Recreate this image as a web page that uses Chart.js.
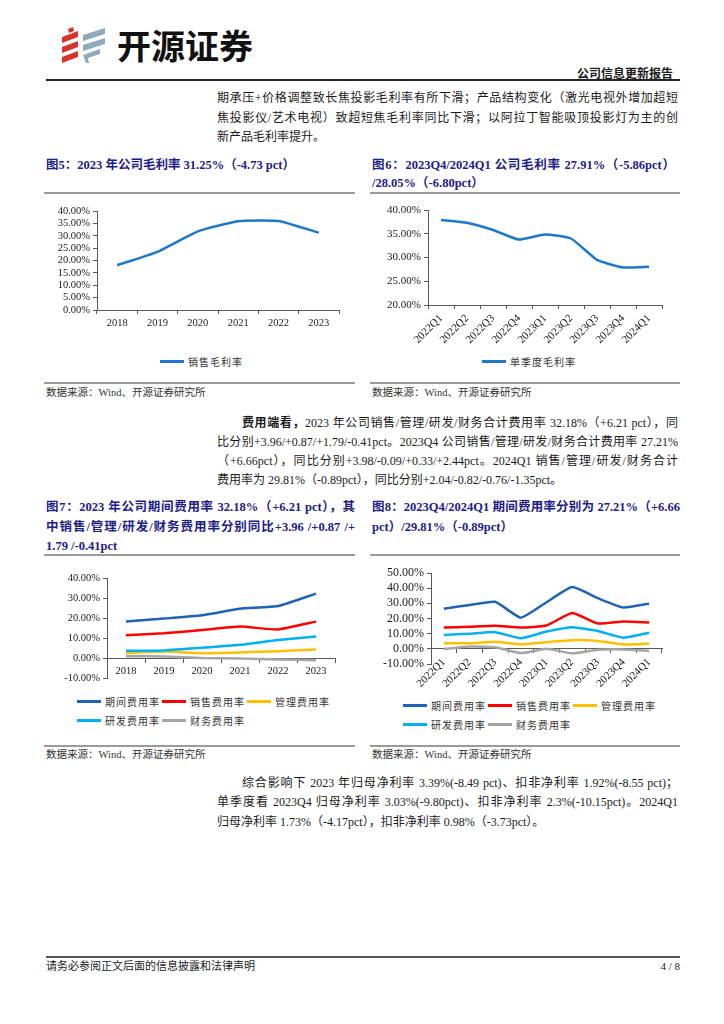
<!DOCTYPE html>
<html lang="zh-CN">
<head>
<meta charset="utf-8">
<title>开源证券 - 公司信息更新报告</title>
<script src="https://cdn.jsdelivr.net/npm/chart.js@4.4.1/dist/chart.umd.min.js"></script>
<style>
    body { margin: 0; background: #fff; }
    #page {
        position: relative;
        width: 724px;
        height: 1024px;
        overflow: hidden;
        font-family: 'Liberation Serif', 'Noto Sans CJK SC', serif;
        color: #1a1a1a;
    }
    .abs { position: absolute; white-space: nowrap; }
    .body-line { font-size: 12px; line-height: 16px; }
    .just { text-align: justify; text-align-last: justify; }
    .fig-title { font-size: 12.5px; line-height: 18px; font-weight: 700; color: #1d2088; }
    .rule { position: absolute; height: 2px; background: #9a9a9a; }
    .source { font-size: 10.5px; line-height: 14px; color: #333; }
    .chart-box { position: absolute; }
    .lg { position: absolute; display: flex; flex-wrap: wrap; }
    .lg-item { display: flex; align-items: center; height: 19px; }
    .lg-line { display: inline-block; width: 24px; height: 3px; margin-right: 4px; }
    .lg-text { font-family: 'Noto Sans CJK SC', sans-serif; font-size: 10px; letter-spacing: 1px; color: #333; }
</style>
</head>
<body>
<div id="page">

    <!-- 页眉 -->
    <svg class="abs" style="left:60px; top:27px;" width="48" height="38" viewBox="0 0 48 38">
        <polygon points="8,2 13,0 14,4 9,6" fill="#d9342b"/>
        <polygon points="2,10 18,4 18,10 2,16" fill="#d9342b"/>
        <polygon points="2,20 18,14 18,20 2,26" fill="#d9342b"/>
        <polygon points="2,30 18,24 18,30 2,36" fill="#d9342b"/>
        <polygon points="23,8 45,1 45,7 23,14" fill="#8eaabd"/>
        <polygon points="23,18 45,11 45,17 23,24" fill="#8eaabd"/>
        <polygon points="23,28 40,22 40,27 28,31 29,36 26,36" fill="#8eaabd"/>
    </svg>
    <div class="abs" style="left:117px; top:27px; font-family:'Noto Sans CJK SC'; font-weight:700; font-size:34px; line-height:36px; color:#111;">开源证券</div>
    <div class="abs" style="right:51px; top:66px; font-family:'Noto Sans CJK SC'; font-weight:700; font-size:12px; line-height:14px;">公司信息更新报告</div>
    <div class="rule" style="left:46px; top:79px; width:634px; background:#222;"></div>

    <!-- 正文段落一 -->
    <div class="abs body-line just" style="left:217px; top:90px; width:461px;">期承压+价格调整致长焦投影毛利率有所下滑；产品结构变化（激光电视外增加超短</div>
    <div class="abs body-line just" style="left:217px; top:110px; width:461px;">焦投影仪/艺术电视）致超短焦毛利率同比下滑；以阿拉丁智能吸顶投影灯为主的创</div>
    <div class="abs body-line" style="left:217px; top:129px;">新产品毛利率提升。</div>

    <!-- 图5 / 图6 标题 -->
    <div class="abs fig-title" style="left:46px; top:156px;">图5：2023 年公司毛利率 31.25%（-4.73 pct）</div>
    <div class="abs fig-title just" style="left:372px; top:156px; width:303px;">图6：2023Q4/2024Q1 公司毛利率 27.91%（-5.86pct）</div>
    <div class="abs fig-title" style="left:372px; top:174px;">/28.05%（-6.80pct）</div>
    <div class="rule" style="left:44px; top:192px; width:311px;"></div>
    <div class="rule" style="left:370px; top:192px; width:310px;"></div>

    <div class="chart-box" style="left:40px; top:200px;"><canvas id="chartGrossYear" width="310" height="140"></canvas></div>
    <div class="chart-box" style="left:360px; top:200px;"><canvas id="chartGrossQuarter" width="330" height="150"></canvas></div>
    <div class="lg" id="legendGrossYear" style="left:160px; top:352px;"></div>
    <div class="lg" id="legendGrossQuarter" style="left:482px; top:352px;"></div>

    <div class="rule" style="left:44px; top:382px; width:311px;"></div>
    <div class="rule" style="left:370px; top:382px; width:310px;"></div>
    <div class="abs source" style="left:46px; top:386px;">数据来源：Wind、开源证券研究所</div>
    <div class="abs source" style="left:372px; top:386px;">数据来源：Wind、开源证券研究所</div>

    <!-- 正文段落二 -->
    <div class="abs body-line just" style="left:242px; top:415px; width:436px;"><b>费用端看，</b>2023 年公司销售/管理/研发/财务合计费用率 32.18%（+6.21 pct），同</div>
    <div class="abs body-line just" style="left:217px; top:434px; width:461px;">比分别+3.96/+0.87/+1.79/-0.41pct。2023Q4 公司销售/管理/研发/财务合计费用率 27.21%</div>
    <div class="abs body-line just" style="left:217px; top:453px; width:461px;">（+6.66pct），同比分别+3.98/-0.09/+0.33/+2.44pct。2024Q1 销售/管理/研发/财务合计</div>
    <div class="abs body-line" style="left:217px; top:472px;">费用率为 29.81%（-0.89pct），同比分别+2.04/-0.82/-0.76/-1.35pct。</div>

    <!-- 图7 / 图8 标题 -->
    <div class="abs fig-title just" style="left:46px; top:498px; width:309px;">图7：2023 年公司期间费用率 32.18%（+6.21 pct），其</div>
    <div class="abs fig-title just" style="left:46px; top:518px; width:309px;">中销售/管理/研发/财务费用率分别同比+3.96 /+0.87 /+</div>
    <div class="abs fig-title" style="left:46px; top:537px;">1.79 /-0.41pct</div>
    <div class="abs fig-title just" style="left:372px; top:498px; width:308px;">图8：2023Q4/2024Q1 期间费用率分别为 27.21%（+6.66</div>
    <div class="abs fig-title" style="left:372px; top:518px;">pct）/29.81%（-0.89pct）</div>
    <div class="rule" style="left:44px; top:554px; width:311px;"></div>
    <div class="rule" style="left:370px; top:554px; width:310px;"></div>

    <div class="chart-box" style="left:40px; top:565px;"><canvas id="chartExpenseYear" width="310" height="125"></canvas></div>
    <div class="chart-box" style="left:360px; top:560px;"><canvas id="chartExpenseQuarter" width="330" height="135"></canvas></div>
    <div class="lg" id="legendExpenseYear" style="left:77px; top:692px; width:255px;"></div>
    <div class="lg" id="legendExpenseQuarter" style="left:403px; top:696px; width:255px;"></div>

    <div class="rule" style="left:44px; top:745px; width:311px;"></div>
    <div class="rule" style="left:370px; top:745px; width:310px;"></div>
    <div class="abs source" style="left:46px; top:748px;">数据来源：Wind、开源证券研究所</div>
    <div class="abs source" style="left:372px; top:748px;">数据来源：Wind、开源证券研究所</div>

    <!-- 正文段落三 -->
    <div class="abs body-line just" style="left:242px; top:775px; width:436px;">综合影响下 2023 年归母净利率 3.39%(-8.49 pct)、扣非净利率 1.92%(-8.55 pct)；</div>
    <div class="abs body-line just" style="left:217px; top:794px; width:461px;">单季度看 2023Q4 归母净利率 3.03%(-9.80pct)、扣非净利率 2.3%(-10.15pct)。2024Q1</div>
    <div class="abs body-line" style="left:217px; top:814px;">归母净利率 1.73%（-4.17pct），扣非净利率 0.98%（-3.73pct）。</div>

    <!-- 页脚 -->
    <div class="rule" style="left:46px; top:956px; width:634px; background:#555;"></div>
    <div class="abs" style="left:46px; top:960px; font-size:11px; line-height:13px;">请务必参阅正文后面的信息披露和法律声明</div>
    <div class="abs" style="right:44px; top:960px; font-size:11px; line-height:13px;">4 / 8</div>
</div>

<script>
// ====================================
// 数据
// ====================================

const years = ['2018', '2019', '2020', '2021', '2022', '2023'];
const quarters = ['2022Q1', '2022Q2', '2022Q3', '2022Q4', '2023Q1', '2023Q2', '2023Q3', '2023Q4', '2024Q1'];

// 毛利率 (%)
const grossMarginYear = [18.1, 23.5, 31.8, 35.9, 35.98, 31.25];
const grossMarginQuarter = [37.9, 37.3, 35.8, 33.77, 34.85, 34.0, 29.5, 27.91, 28.05];

// 年度费用率 (%)
const periodExpYear = [18.2, 19.7, 21.4, 24.6, 25.97, 32.18];
const sellingExpYear = [11.4, 12.4, 14.0, 15.7, 14.3, 18.2];
const adminExpYear = [2.5, 3.2, 2.4, 2.8, 3.4, 4.3];
const rdExpYear = [3.6, 3.8, 5.1, 6.6, 9.0, 10.8];
const financeExpYear = [0.9, 0.8, 0.0, -0.3, -0.7, -1.1];

// 单季度费用率 (%)
const periodExpQuarter = [26.5, 28.9, 31.0, 20.55, 30.7, 40.7, 33.4, 27.21, 29.81];
const sellingExpQuarter = [14.0, 14.6, 15.3, 14.0, 15.4, 23.6, 16.7, 17.98, 17.44];
const adminExpQuarter = [3.7, 3.7, 4.6, 2.9, 4.4, 5.7, 5.2, 2.81, 3.58];
const rdExpQuarter = [9.2, 9.9, 11.0, 7.0, 11.4, 14.3, 11.8, 7.33, 10.64];
const financeExpQuarter = [-0.2, 1.5, 1.1, -2.8, 0.0, -3.0, -0.6, -0.36, -1.35];

const expenseNames = ['期间费用率', '销售费用率', '管理费用率', '研发费用率', '财务费用率'];
const expenseColors = ['#1f63b4', '#ff0000', '#ffc000', '#00b0f0', '#a5a5a5'];
const grossColor = '#1f78c8';

// ====================================
// 公共设置
// ====================================

const axisColor = '#595959';
const serif = "'Liberation Serif', 'Times New Roman', serif";

function pctTick(v) {
    return Number(v).toFixed(2) + '%';
}

function yAxis(min, max, step, width, size) {
    return {
        min: min,
        max: max,
        ticks: { stepSize: step, autoSkip: false, callback: pctTick, color: '#1a1a1a', font: { family: serif, size: size }, padding: 3 },
        grid: { drawOnChartArea: false, drawTicks: true, tickLength: 4, color: axisColor },
        border: { display: true, color: axisColor, width: 1 },
        afterFit: s => { s.width = width; }
    };
}

function xAxis(size, rotation, height, position) {
    const axis = {
        offset: true,
        ticks: { color: '#1a1a1a', font: { family: serif, size: size }, padding: 3, autoSkip: false, minRotation: rotation, maxRotation: rotation },
        grid: { offset: true, drawOnChartArea: false, drawTicks: true, tickLength: 4, color: axisColor },
        border: { display: true, color: axisColor, width: 1 }
    };
    if (position) axis.position = position;
    if (height) axis.afterFit = s => { s.height = height; };
    return axis;
}

function lineSet(label, data, color) {
    return {
        label: label,
        data: data,
        borderColor: color,
        backgroundColor: color,
        borderWidth: 2.5,
        pointRadius: 0,
        tension: 0.15,
        fill: false
    };
}

function baseOptions(padding, scales) {
    return {
        responsive: false,
        animation: false,
        layout: { padding: padding },
        plugins: { legend: { display: false }, tooltip: { enabled: false } },
        scales: scales
    };
}

function buildLegend(id, names, colors, itemWidth) {
    const box = document.getElementById(id);
    names.forEach((name, i) => {
        const item = document.createElement('div');
        item.className = 'lg-item';
        if (itemWidth) item.style.width = itemWidth + 'px';
        item.innerHTML = '<span class="lg-line" style="background:' + colors[i] + '"></span>' +
            '<span class="lg-text">' + name + '</span>';
        box.appendChild(item);
    });
}

// ====================================
// 图5：年度毛利率
// ====================================

new Chart(document.getElementById('chartGrossYear'), {
    type: 'line',
    data: { labels: years, datasets: [lineSet('销售毛利率', grossMarginYear, grossColor)] },
    options: baseOptions({ left: 0, right: 11, top: 11, bottom: 0 }, {
        x: xAxis(10.5, 0, 30),
        y: yAxis(0, 40, 5, 57, 10.5)
    })
});
buildLegend('legendGrossYear', ['销售毛利率'], [grossColor]);

// ====================================
// 图6：单季度毛利率
// ====================================

new Chart(document.getElementById('chartGrossQuarter'), {
    type: 'line',
    data: { labels: quarters, datasets: [lineSet('单季度毛利率', grossMarginQuarter, grossColor)] },
    options: baseOptions({ left: 0, right: 28, top: 10, bottom: 0 }, {
        x: xAxis(11, 45, 45),
        y: yAxis(20, 40, 5, 68, 11)
    })
});
buildLegend('legendGrossQuarter', ['单季度毛利率'], [grossColor]);

// ====================================
// 图7：年度费用率
// ====================================

const expenseYearSeries = [periodExpYear, sellingExpYear, adminExpYear, rdExpYear, financeExpYear];
new Chart(document.getElementById('chartExpenseYear'), {
    type: 'line',
    data: {
        labels: years,
        datasets: expenseYearSeries.map((d, i) => lineSet(expenseNames[i], d, expenseColors[i])).reverse()
    },
    options: baseOptions({ left: 0, right: 15, top: 13, bottom: 12 }, {
        x: xAxis(10.5, 0, null, { y: 0 }),
        y: yAxis(-10, 40, 10, 67, 10.5)
    })
});
buildLegend('legendExpenseYear', expenseNames, expenseColors, 85);

// ====================================
// 图8：单季度费用率
// ====================================

const expenseQuarterSeries = [periodExpQuarter, sellingExpQuarter, adminExpQuarter, rdExpQuarter, financeExpQuarter];
new Chart(document.getElementById('chartExpenseQuarter'), {
    type: 'line',
    data: {
        labels: quarters,
        datasets: expenseQuarterSeries.map((d, i) => lineSet(expenseNames[i], d, expenseColors[i])).reverse()
    },
    options: baseOptions({ left: 0, right: 28, top: 13, bottom: 31 }, {
        x: xAxis(11, 45, null, { y: 0 }),
        y: yAxis(-10, 50, 10, 71, 12)
    })
});
buildLegend('legendExpenseQuarter', expenseNames, expenseColors, 85);
</script>
</body>
</html>
